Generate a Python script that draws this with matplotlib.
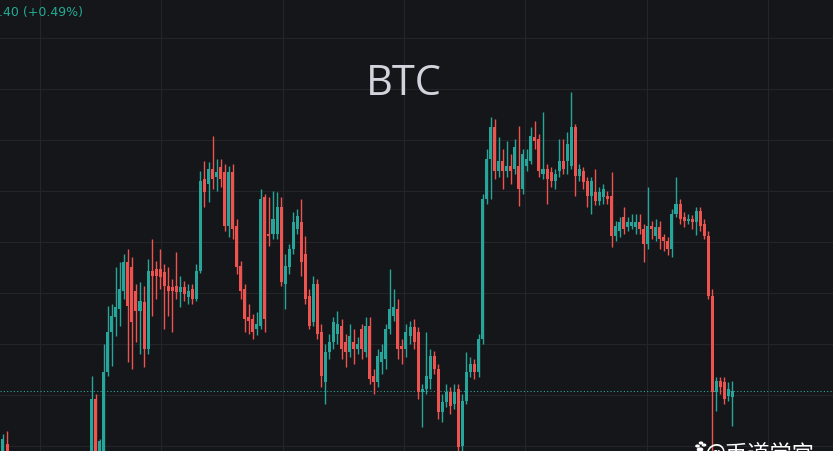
import numpy as np
import matplotlib
matplotlib.use('Agg')
import matplotlib.pyplot as plt

# candle data (price), left to right; the first rows after index 1 sit below the visible range
opens = [59450, 59550, 59480, 59300, 59200, 59050, 59100, 58950, 58900, 59000,
         59080, 58980, 58900, 58950, 59050, 59150, 59100, 59200, 59250, 59180,
         59280, 59350, 59480, 60000, 59380, 59480, 60270, 60670, 60820, 60900,
         61080, 61370, 61320, 61080, 60880, 60970, 60500, 61280, 61300, 61300,
         61270, 61130, 61120, 61130, 61070, 61120, 61020, 61100, 61000, 61280,
         62200, 62150, 62300, 62220, 62320, 62270, 61730, 62270, 61730, 61330,
         61100, 60820, 60800, 60700, 60730, 62020, 61650, 61650, 61650, 61920,
         61150, 61320, 61500, 61700, 61770, 61450, 61030, 60770, 61150, 60670,
         60170, 60470, 60570, 60650, 60730, 60570, 60470, 60570, 60500, 60700,
         60470, 60730, 60230, 60170, 60370, 60400, 60700, 60830, 60900, 60530,
         60500, 60630, 60720, 60670, 60070, 60100, 60200, 60430, 60300, 59870,
         59970, 60070, 59950, 60100, 59530, 59980, 60270, 60350, 60270, 60600,
         62000, 62400, 62720, 62280, 62380, 62280, 62330, 62300, 62330, 62100,
         62330, 62380, 62620, 62600, 62250, 62300, 62270, 62180, 62280, 62380,
         62380, 62330, 62720, 62230, 62280, 62180, 62030, 62070, 61980, 62020,
         62030, 62030, 61630, 61680, 61820, 61720, 61730, 61720, 61770, 61700,
         61550, 61730, 61630, 61720, 61620, 61580, 61500, 61850, 61950, 61820,
         61780, 61800, 61770, 61880, 61750, 61630, 61030, 60070, 60180, 60170,
         60030, 60020]
closes = [59600, 59480, 59300, 59200, 59050, 59100, 58950, 58900, 59000, 59080,
          58980, 58900, 58950, 59050, 59150, 59100, 59200, 59250, 59180, 59280,
          59350, 59300, 60000, 59450, 59580, 60270, 60670, 60830, 60920, 61100,
          61370, 60930, 60770, 60880, 60980, 60500, 61280, 61230, 61230, 61220,
          61130, 61080, 61080, 61070, 61120, 61050, 61080, 61000, 61280, 62180,
          62070, 62300, 62200, 62270, 62200, 61730, 62270, 61700, 61320, 61080,
          60800, 60780, 60670, 60750, 62000, 60800, 61630, 61800, 61920, 61170,
          61330, 61500, 61770, 61830, 61370, 61000, 60730, 61150, 60650, 60230,
          60470, 60570, 60770, 60750, 60500, 60470, 60630, 60500, 60550, 60500,
          60730, 60200, 60170, 60430, 60470, 60700, 60900, 60920, 60500, 60500,
          60670, 60720, 60570, 60070, 60100, 60230, 60430, 60300, 59870, 59970,
          60070, 59930, 60070, 59520, 59980, 60270, 60350, 60270, 60600, 62000,
          62400, 62720, 62280, 62380, 62280, 62330, 62280, 62520, 62100, 62450,
          62400, 62630, 62580, 62280, 62300, 62200, 62180, 62250, 62380, 62300,
          62550, 62720, 62230, 62300, 62170, 62030, 62180, 61980, 62070, 62100,
          62000, 61630, 61730, 61770, 61700, 61770, 61770, 61770, 61700, 61550,
          61730, 61700, 61720, 61600, 61580, 61500, 61850, 61950, 61800, 61780,
          61800, 61770, 61880, 61730, 61630, 61030, 60070, 60180, 60120, 60000,
          60100, 60080]
highs = [59650, 59680, 59470, 59350, 59250, 59150, 59120, 59000, 59050, 59120,
         59100, 59000, 59000, 59100, 59200, 59220, 59250, 59300, 59300, 59330,
         59400, 59420, 60230, 60050, 59600, 60550, 60930, 60950, 61320, 61370,
         61450, 61500, 61420, 61150, 61170, 61130, 61400, 61600, 61380, 61500,
         61350, 61320, 61200, 61470, 61230, 61180, 61150, 61150, 61350, 62280,
         62380, 62370, 62630, 62400, 62400, 62350, 62330, 62350, 61800, 61380,
         61150, 60950, 60850, 60870, 62100, 62050, 62020, 62080, 62070, 62020,
         61450, 61550, 61870, 61900, 62000, 61630, 61100, 61230, 61200, 60750,
         60550, 60650, 60820, 60880, 60800, 60650, 60750, 60700, 60620, 60750,
         60820, 60820, 60300, 60500, 60550, 60750, 61300, 61100, 61000, 60600,
         60750, 60780, 60800, 60720, 60150, 60670, 60500, 60480, 60350, 60050,
         60150, 60120, 60150, 60150, 60050, 60470, 60420, 60400, 60650, 62050,
         62500, 62820, 62800, 62620, 62500, 62580, 62450, 62600, 62730, 62500,
         62500, 62720, 62780, 62650, 62870, 62350, 62320, 62300, 62600, 62600,
         62670, 63070, 62750, 62350, 62320, 62220, 62220, 62300, 62120, 62150,
         62080, 62270, 61780, 61820, 61920, 61820, 61850, 61850, 61850, 61750,
         62120, 61780, 61800, 61780, 61650, 61620, 61900, 62220, 62000, 61870,
         61850, 61840, 61920, 61920, 61800, 61680, 61100, 60220, 60220, 60220,
         60170, 60180]
lows = [59300, 59300, 59250, 59150, 59000, 58980, 58900, 58850, 58850, 58950,
        58920, 58850, 58850, 58900, 59000, 59050, 59050, 59150, 59120, 59150,
        59230, 59250, 59300, 59300, 59250, 59450, 60230, 60330, 60630, 60730,
        61000, 60370, 60300, 60570, 60450, 60320, 60450, 60830, 61000, 61100,
        60700, 60830, 60670, 61000, 60920, 60980, 60950, 60950, 60980, 61260,
        61920, 61970, 62100, 62080, 62120, 61680, 61620, 61600, 61250, 61000,
        60670, 60650, 60600, 60640, 60700, 60670, 61530, 61600, 61600, 61130,
        60900, 61250, 61450, 61650, 61230, 60950, 60700, 60730, 60600, 60120,
        59950, 60400, 60500, 60550, 60400, 60320, 60420, 60350, 60450, 60400,
        60420, 60150, 60050, 60120, 60250, 60300, 60650, 60780, 60400, 60350,
        60420, 60550, 60500, 60000, 59720, 60050, 60100, 60250, 59800, 59770,
        59920, 59850, 59900, 59480, 59450, 59950, 60220, 60200, 60220, 60550,
        61950, 62000, 62200, 62220, 62100, 62220, 62150, 62250, 61930, 62050,
        62280, 62350, 62500, 62220, 62200, 61950, 62120, 62100, 62220, 62250,
        62250, 62300, 62030, 62180, 62100, 61920, 61850, 61940, 61940, 61950,
        61950, 61520, 61580, 61620, 61650, 61680, 61700, 61650, 61650, 61370,
        61500, 61600, 61580, 61500, 61480, 61440, 61420, 61820, 61750, 61720,
        61750, 61700, 61640, 61680, 61600, 61000, 59300, 59880, 60050, 59950,
        59980, 59730]

header_text = '.40 (+0.49%)'
title_text = 'BTC'
mark_text = '@币道学宫'

up_col = '#26a69a'
dn_col = '#ef5350'
bg = '#151619'

opens, closes, highs, lows = [np.array(a) for a in (opens, closes, highs, lows)]
n = len(opens)

fig = plt.figure(figsize=(8.33, 4.52), dpi=100)
fig.patch.set_facecolor(bg)
ax = fig.add_axes([0, 0, 1, 1])
ax.set_facecolor(bg)

x = np.arange(n)
up = closes >= opens
cols = np.where(up, up_col, dn_col)
ax.vlines(x, lows, highs, colors=cols, linewidth=1.0, zorder=3)
body_lo = np.minimum(opens, closes)
body_h = np.maximum(np.abs(closes - opens), 20)
ax.bar(x, body_h, bottom=body_lo, width=0.75, color=cols, linewidth=0, zorder=4)

# last price line
ax.axhline(closes[-1], color=up_col, linestyle=(0, (1, 2)), linewidth=0.8, zorder=2)

ax.set_xlim(-0.74, 205.96)
ax.set_ylim(59480, 64000)
ax.set_xticks([9.2, 39.3, 69.4, 99.5, 129.6, 159.7, 189.8])
ax.set_yticks(np.arange(59530, 64000, 510))
ax.grid(True, color='#232529', linewidth=0.8, zorder=0)
ax.tick_params(length=0, labelbottom=False, labelleft=False)
for s in ax.spines.values():
    s.set_visible(False)

fig.text(-0.001, 0.973, header_text, color='#22ab94', fontsize=9,
         ha='left', va='center', family='DejaVu Sans')
fig.text(0.485, 0.815, title_text, color='#d1d4dc', fontsize=30,
         ha='center', va='center', family='Open Sans')
fig.text(0.846, 0.024, mark_text, color='white', fontsize=16,
         ha='left', va='top', family=['Noto Sans CJK SC', 'DejaVu Sans'])
# paw icon dots
for px, py, r in [(697.5, 447, 1.6), (701, 444, 1.6), (704, 446, 1.6), (700, 450.5, 2.6)]:
    fig.patches.append(plt.Circle((px / 833, 1 - py / 452), r / 833, color='white',
                                  transform=fig.transFigure, figure=fig))

fig.savefig('out.png', dpi=100, facecolor=bg)
